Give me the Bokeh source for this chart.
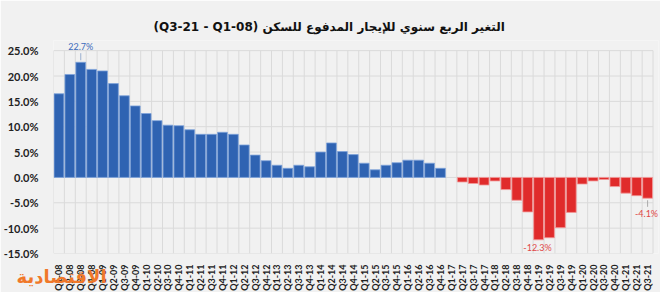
from bokeh.plotting import figure
from bokeh.models import FixedTicker, Label, ColumnDataSource, Range1d
from bokeh.embed import file_html
from bokeh.resources import INLINE

title_text = "(Q3-21 - Q1-08) التغير الربع سنوي للإيجار المدفوع للسكن"
logo_text = "الاقتصادية"

quarters = [
    "Q1-08", "Q2-08", "Q3-08", "Q4-08", "Q1-09", "Q2-09", "Q3-09", "Q4-09",
    "Q1-10", "Q2-10", "Q3-10", "Q4-10", "Q1-11", "Q2-11", "Q3-11", "Q4-11",
    "Q1-12", "Q2-12", "Q3-12", "Q4-12", "Q1-13", "Q2-13", "Q3-13", "Q4-13",
    "Q1-14", "Q2-14", "Q3-14", "Q4-14", "Q1-15", "Q2-15", "Q3-15", "Q4-15",
    "Q1-16", "Q2-16", "Q3-16", "Q4-16", "Q1-17", "Q2-17", "Q3-17", "Q4-17",
    "Q1-18", "Q2-18", "Q3-18", "Q4-18", "Q1-19", "Q2-19", "Q3-19", "Q4-19",
    "Q1-20", "Q2-20", "Q3-20", "Q4-20", "Q1-21", "Q2-21", "Q3-21",
]

change = [
    16.5, 20.3, 22.7, 21.3, 21.0, 18.5, 16.1, 14.1,
    12.6, 11.2, 10.3, 10.2, 9.4, 8.5, 8.5, 8.9,
    8.5, 6.4, 4.4, 3.3, 2.4, 1.8, 2.4, 2.1,
    5.0, 6.8, 5.1, 4.5, 2.8, 1.5, 2.4, 2.9,
    3.4, 3.4, 2.8, 1.8, 0.0, -0.9, -1.2, -1.5,
    -0.7, -2.4, -4.5, -6.8, -12.3, -11.9, -9.9, -6.9,
    -1.3, -0.7, -0.4, -1.8, -3.1, -3.6, -4.1,
]

y_ticks = [-15, -10, -5, 0, 5, 10, 15, 20, 25]
y_tick_labels = ["-15.0%", "-10.0%", "-5.0%", "0.0%", "5.0%", "10.0%", "15.0%", "20.0%", "25.0%"]

labelled = ["Q3-08", "Q1-19", "Q3-21"]

BLUE = "#2F63B2"
BLUE_EDGE = "#7FA3DA"
RED = "#E02B2B"
RED_EDGE = "#F29A9A"
BG = "#F1F1F1"
GRID = "#DADADA"

n = len(quarters)
xs = list(range(n))
pos = ColumnDataSource(dict(x=[i for i, v in zip(xs, change) if v > 0],
                            top=[v for v in change if v > 0]))
neg = ColumnDataSource(dict(x=[i for i, v in zip(xs, change) if v < 0],
                            top=[v for v in change if v < 0]))

y_lo, y_hi = y_ticks[0], y_ticks[-1]

p = figure(width=660, height=292, output_backend="svg", toolbar_location=None,
           x_range=Range1d(-0.5, n), y_range=Range1d(y_lo, y_hi + 2),
           min_border_left=43, min_border_right=2, min_border_top=40, min_border_bottom=39,
           background_fill_color=BG, border_fill_color=BG, outline_line_color=None)

p.title.text = title_text
p.title.align = "left"
p.title.offset = 100
p.title.text_font = "DejaVu Sans"
p.title.text_font_style = "bold"
p.title.text_font_size = "12px"
p.title.text_color = "#111111"
p.title.standoff = 14

# grid drawn as segments so it stops at the chart area
p.segment(x0=[-0.5] * len(y_ticks), x1=[n - 0.5] * len(y_ticks), y0=y_ticks, y1=y_ticks,
          line_color=GRID, line_width=1)
vx = [i - 0.5 for i in range(n + 1)]
p.segment(x0=vx, x1=vx, y0=[y_lo] * len(vx), y1=[y_hi] * len(vx),
          line_color=GRID, line_width=1)

p.vbar(x="x", top="top", bottom=0, width=0.9, source=pos,
       fill_color=BLUE, line_color=BLUE_EDGE, line_width=0.8)
p.vbar(x="x", top="top", bottom=0, width=0.9, source=neg,
       fill_color=RED, line_color=RED_EDGE, line_width=0.8)

# data labels with leader lines
for q in labelled:
    i = quarters.index(q)
    v = change[i]
    txt = f"{v:.1f}%"
    if v > 0:
        col = "#3A6BBC"
        p.segment(x0=[i], x1=[i], y0=[v + 0.4], y1=[v + 1.8], line_color="#9AAFCF", line_width=1)
        lab = Label(x=i, y=v + 3.2, text=txt, text_align="center", text_baseline="middle",
                    text_font="Lato", text_font_size="9px", text_color=col)
    else:
        col = "#E04848"
        if v > -10:
            p.segment(x0=[i], x1=[i], y0=[v - 0.4], y1=[v - 1.7], line_color="#AAAAAA", line_width=1)
            yl = v - 3.0
        else:
            yl = v - 1.5
        lab = Label(x=i - 0.1, y=yl, text=txt, text_align="center", text_baseline="middle",
                    text_font="Lato", text_font_size="9px", text_color=col)
    p.add_layout(lab)

# axes
p.xgrid.grid_line_color = None
p.ygrid.grid_line_color = None
p.yaxis.ticker = FixedTicker(ticks=y_ticks)
p.yaxis.major_label_overrides = {t: s for t, s in zip(y_ticks, y_tick_labels)}
p.xaxis.ticker = FixedTicker(ticks=xs)
p.xaxis.major_label_overrides = {i: q for i, q in zip(xs, quarters)}
p.xaxis.major_label_orientation = 3.14159265 / 2

for ax in (p.xaxis, p.yaxis):
    ax.axis_line_color = None
    ax.major_tick_line_color = None
    ax.minor_tick_line_color = None
    ax.major_label_text_font = "Lato"
    ax.major_label_text_font_style = "bold"
    ax.major_label_text_color = "#222222"
p.yaxis.major_label_text_font_size = "11px"
p.yaxis.major_label_standoff = 9
p.xaxis.major_label_text_font_size = "9px"
p.xaxis.major_label_standoff = 5

# publisher logo (as the x axis label, overlapping the tick labels like the original)
p.xaxis.axis_label = "\u00a0\u00a0\u2009" + logo_text
p.xaxis.axis_label_align = "start"
p.xaxis.axis_label_text_align = "left"
p.xaxis.axis_label_standoff = -28
p.xaxis.axis_label_text_font = "DejaVu Sans"
p.xaxis.axis_label_text_font_style = "bold"
p.xaxis.axis_label_text_font_size = "18px"
p.xaxis.axis_label_text_color = "#F0782A"

open("out.html", "w").write(file_html(p, INLINE))
